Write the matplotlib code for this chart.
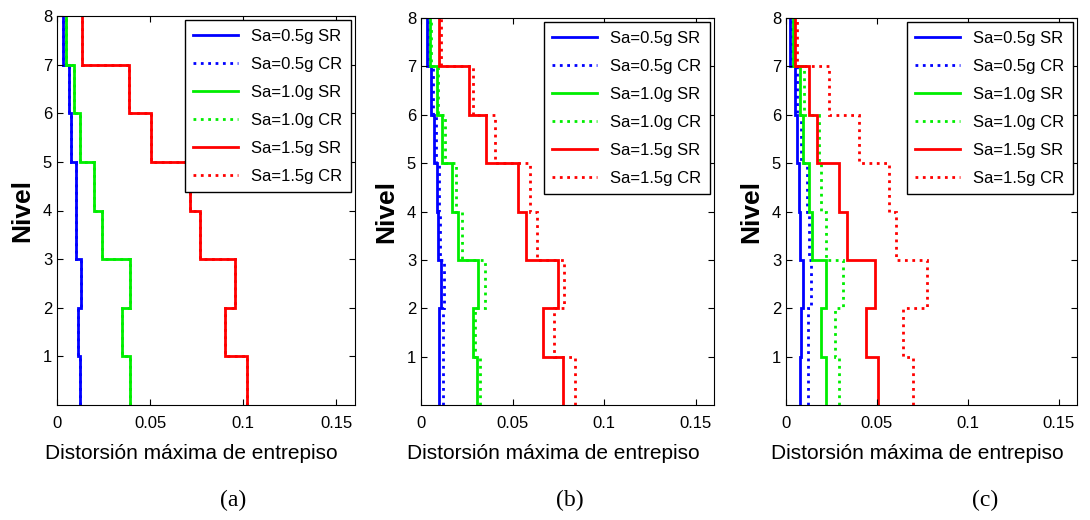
import numpy as np
import matplotlib.pyplot as plt

plt.rcParams['font.family'] = ['Liberation Sans', 'DejaVu Sans']

# niveles (bordes de entrepiso)
niveles = np.arange(0, 9)

# distorsion por entrepiso, del piso 1 al piso 8
# (a)
a_05_sr = [0.0122, 0.0113, 0.0128, 0.0100, 0.0100, 0.0077, 0.0063, 0.0032]
a_05_cr = [0.0122, 0.0113, 0.0128, 0.0100, 0.0100, 0.0077, 0.0063, 0.0032]
a_10_sr = [0.0390, 0.0350, 0.0390, 0.0240, 0.0198, 0.0126, 0.0090, 0.0050]
a_10_cr = [0.0390, 0.0350, 0.0390, 0.0240, 0.0198, 0.0126, 0.0090, 0.0050]
a_15_sr = [0.1018, 0.0900, 0.0958, 0.0770, 0.0712, 0.0503, 0.0387, 0.0133]
a_15_cr = [0.1018, 0.0900, 0.0958, 0.0770, 0.0712, 0.0503, 0.0387, 0.0133]
# (b)
b_05_sr = [0.0098, 0.0100, 0.0107, 0.0095, 0.0087, 0.0071, 0.0056, 0.0031]
b_05_cr = [0.0122, 0.0120, 0.0127, 0.0106, 0.0098, 0.0082, 0.0064, 0.0042]
b_10_sr = [0.0308, 0.0282, 0.0310, 0.0204, 0.0171, 0.0116, 0.0086, 0.0049]
b_10_cr = [0.0322, 0.0293, 0.0350, 0.0226, 0.0191, 0.0129, 0.0093, 0.0056]
b_15_sr = [0.0777, 0.0668, 0.0746, 0.0573, 0.0531, 0.0357, 0.0264, 0.0100]
b_15_cr = [0.0841, 0.0728, 0.0781, 0.0632, 0.0595, 0.0402, 0.0286, 0.0107]
# (c)
c_05_sr = [0.0077, 0.0083, 0.0092, 0.0077, 0.0072, 0.0059, 0.0048, 0.0022]
c_05_cr = [0.0119, 0.0123, 0.0140, 0.0129, 0.0117, 0.0083, 0.0062, 0.0029]
c_10_sr = [0.0218, 0.0195, 0.0218, 0.0145, 0.0127, 0.0095, 0.0077, 0.0037]
c_10_cr = [0.0294, 0.0272, 0.0316, 0.0220, 0.0191, 0.0182, 0.0099, 0.0044]
c_15_sr = [0.0505, 0.0439, 0.0487, 0.0338, 0.0294, 0.0173, 0.0129, 0.0051]
c_15_cr = [0.0701, 0.0644, 0.0775, 0.0604, 0.0564, 0.0404, 0.0237, 0.0059]

etiquetas = ['Sa=0.5g SR', 'Sa=0.5g CR', 'Sa=1.0g SR', 'Sa=1.0g CR', 'Sa=1.5g SR', 'Sa=1.5g CR']
colores = ['#0000ff', '#0000ff', '#00ee00', '#00ee00', '#ff0000', '#ff0000']
estilos = ['-', ':', '-', ':', '-', ':']

paneles = [
    ('(a)', [a_05_sr, a_05_cr, a_10_sr, a_10_cr, a_15_sr, a_15_cr]),
    ('(b)', [b_05_sr, b_05_cr, b_10_sr, b_10_cr, b_15_sr, b_15_cr]),
    ('(c)', [c_05_sr, c_05_cr, c_10_sr, c_10_cr, c_15_sr, c_15_cr]),
]

W, H = 1090, 520
cajas = [(57, 355, 16, 405), (421, 714, 18, 405), (786, 1077, 18, 405)]
x_letra = [233, 570, 985]

fig = plt.figure(figsize=(W / 100, H / 100), dpi=100)

for (letra, series), (x0, x1, y0, y1), xl in zip(paneles, cajas, x_letra):
    ax = fig.add_axes([x0 / W, 1 - y1 / H, (x1 - x0) / W, (y1 - y0) / H])
    for vals, c, ls, lab in zip(series, colores, estilos, etiquetas):
        ax.stairs(vals, niveles, orientation='horizontal', baseline=None,
                  color=c, linestyle=ls, linewidth=2, label=lab)
    ax.set_xlim(0, 0.16)
    ax.set_ylim(0, 8)
    ax.set_xticks([0, 0.05, 0.1, 0.15])
    ax.set_xticklabels(['0', '0.05', '0.1', '0.15'])
    ax.set_yticks(range(1, 9))
    ax.tick_params(direction='in', top=True, right=True, labelsize=12, length=4)
    ax.tick_params(axis='x', pad=8)
    ax.set_xlabel('Distorsión máxima de entrepiso', fontsize=15)
    ax.xaxis.set_label_coords(0.45, -0.10)
    ax.set_ylabel('Nivel', fontsize=19, fontweight='bold', labelpad=6)
    leg = ax.legend(loc='upper right', fontsize=12, frameon=True, fancybox=False,
                    edgecolor='black', framealpha=1, handlelength=2.7,
                    borderaxespad=0.25, labelspacing=0.78, borderpad=0.5)
    leg.get_frame().set_linewidth(1)
    fig.text(xl / W, 1 - 500 / H, letra, ha='center', va='center', fontsize=17,
             family=['Liberation Serif', 'DejaVu Serif'])

fig.savefig('out.png', dpi=100)
